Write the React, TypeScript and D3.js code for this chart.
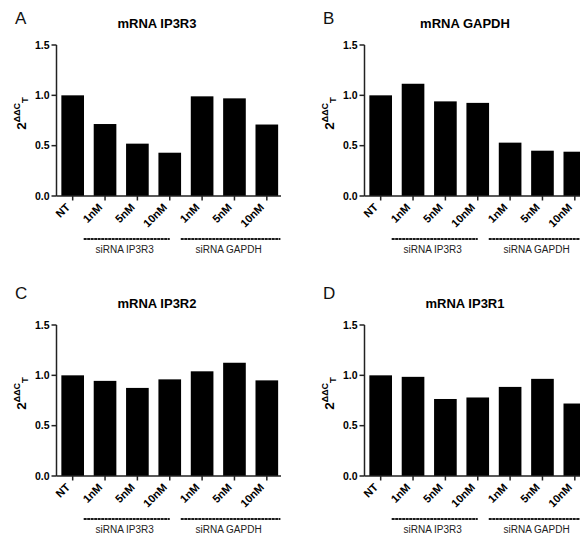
import React from "react";
import * as d3 from "d3";

// ---- data ----
const tickLabels = ["NT", "1nM", "5nM", "10nM", "1nM", "5nM", "10nM"];
const groupLabels = ["siRNA IP3R3", "siRNA GAPDH"];
const groupSpans = [[1, 3], [4, 6]];
const titles = ["mRNA IP3R3", "mRNA GAPDH", "mRNA IP3R2", "mRNA IP3R1"];
const panelLetters = ["A", "B", "C", "D"];
const ip3r3Values = [1.0, 0.715, 0.52, 0.43, 0.99, 0.97, 0.71];
const gapdhValues = [1.0, 1.115, 0.94, 0.925, 0.53, 0.45, 0.44];
const ip3r2Values = [1.0, 0.945, 0.875, 0.96, 1.04, 1.125, 0.95];
const ip3r1Values = [1.0, 0.985, 0.765, 0.78, 0.885, 0.965, 0.72];
const yTicks = [0, 0.5, 1.0, 1.5];
const yTickLabels = ["0.0", "0.5", "1.0", "1.5"];

const panelValues = [ip3r3Values, gapdhValues, ip3r2Values, ip3r1Values];
const FONT = "'Liberation Sans', Arial, Helvetica, sans-serif";

const W = 580;
const H = 536;

function Panel({ idx }: { idx: number }) {
  const col = idx % 2;
  const row = Math.floor(idx / 2);
  const ox = col * 308;
  const oy = row * 280;
  const values = panelValues[idx];

  const axisX = 56.5;
  const y = d3.scaleLinear().domain([0, 1.5]).range([196, 45]);
  const x = d3
    .scaleBand<number>()
    .domain(d3.range(values.length))
    .range([axisX, 283])
    .paddingInner(0.3)
    .paddingOuter(0.15);
  const bw = x.bandwidth();
  const step = x.step();
  const cx = (i: number) => (x(i) as number) + bw / 2;

  return (
    <g transform={`translate(${ox},${oy})`}>
      <text x={15} y={row === 0 ? 24 : 19} fontSize={17} fontFamily={FONT} fill="#111">
        {panelLetters[idx]}
      </text>
      <text
        x={157}
        y={28}
        fontSize={13}
        fontWeight="bold"
        fontFamily={FONT}
        textAnchor="middle"
        fill="#000"
      >
        {titles[idx]}
      </text>

      {/* bars */}
      {values.map((v, i) => (
        <rect key={i} x={x(i)} y={y(v)} width={bw} height={y(0) - y(v)} fill="#000" />
      ))}

      {/* y axis */}
      <line x1={axisX} x2={axisX} y1={y(1.5)} y2={y(0)} stroke="#222" strokeWidth={1.5} />
      {yTicks.map((t, i) => (
        <g key={i}>
          <line x1={axisX - 5} x2={axisX} y1={y(t)} y2={y(t)} stroke="#222" strokeWidth={1.5} />
          <text
            x={axisX - 7}
            y={y(t)}
            dy="0.35em"
            fontSize={10.5}
            fontWeight="bold"
            fontFamily={FONT}
            textAnchor="end"
            fill="#000"
          >
            {yTickLabels[i]}
          </text>
        </g>
      ))}

      {/* y label 2^ΔΔC_T */}
      <g transform={`translate(26,${y(0.82)}) rotate(-90)`}>
        <text fontFamily={FONT} fontWeight="bold" fill="#000" textAnchor="middle">
          <tspan fontSize={13.5}>2</tspan>
          <tspan fontSize={9} dy={-6}>ΔΔC</tspan>
          <tspan fontSize={9.5} dy={8}>T</tspan>
        </text>
      </g>

      {/* x axis */}
      <line x1={axisX} x2={281} y1={y(0)} y2={y(0)} stroke="#222" strokeWidth={1.5} />
      {values.map((_, i) => (
        <g key={i}>
          <line x1={cx(i)} x2={cx(i)} y1={y(0)} y2={y(0) + 4.5} stroke="#222" strokeWidth={1.5} />
          <text
            transform={`translate(${cx(i) - 2},${y(0) + 12}) rotate(-45)`}
            fontSize={11}
            fontWeight="bold"
            fontFamily={FONT}
            textAnchor="end"
            fill="#000"
          >
            {tickLabels[i]}
          </text>
        </g>
      ))}

      {/* group lines */}
      {groupSpans.map(([a, b], gi) => {
        const x1 = cx(a) - 0.66 * step;
        const x2 = gi === 0 ? cx(b) : cx(b) + 0.42 * step;
        return (
          <g key={gi}>
            <line
              x1={x1}
              x2={x2}
              y1={y(0) + 43}
              y2={y(0) + 43}
              stroke="#1a1a1a"
              strokeWidth={2}
              strokeDasharray="3 0.5"
            />
            <text
              x={(x1 + x2) / 2 - 2}
              y={y(0) + 57}
              fontSize={10}
              fontFamily={FONT}
              textAnchor="middle"
              fill="#222"
            >
              {groupLabels[gi]}
            </text>
          </g>
        );
      })}
    </g>
  );
}

export default function App() {
  return (
    <svg
      width={W}
      height={H}
      viewBox={`0 0 ${W} ${H}`}
      style={{ position: "absolute", left: 0, top: 0, background: "#fff" }}
    >
      <rect width={W} height={H} fill="#fff" />
      {[0, 1, 2, 3].map((i) => (
        <Panel key={i} idx={i} />
      ))}
    </svg>
  );
}
